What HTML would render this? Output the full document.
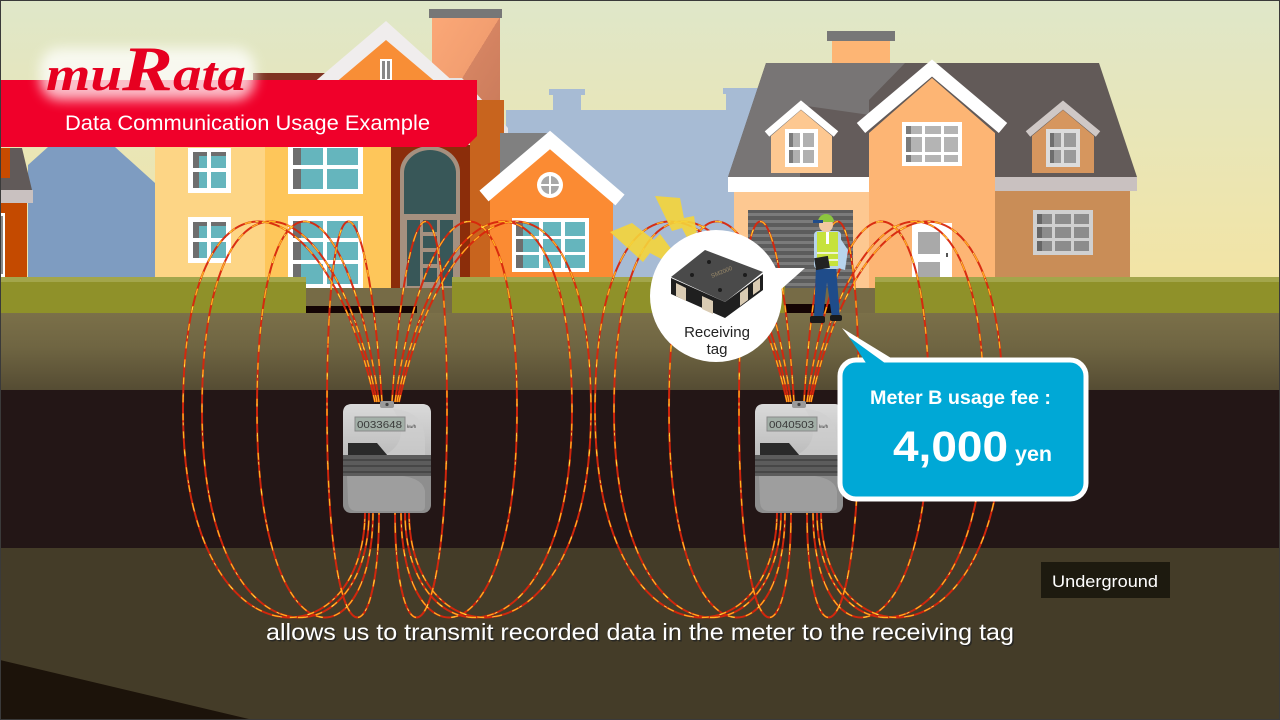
<!DOCTYPE html>
<html><head><meta charset="utf-8"><style>
html,body{margin:0;padding:0;background:#000;}
svg{display:block;}
</style></head><body>
<svg width="1280" height="720" viewBox="0 0 1280 720" xmlns="http://www.w3.org/2000/svg" font-family="Liberation Sans, Arial, sans-serif">
<defs>
<linearGradient id="sky" x1="0" y1="0" x2="0" y2="1">
<stop offset="0" stop-color="#dfe7c9"/><stop offset="1" stop-color="#f4e4a2"/>
</linearGradient>
<linearGradient id="dirt" x1="0" y1="0" x2="0" y2="1">
<stop offset="0" stop-color="#7b7049"/><stop offset="0.45" stop-color="#6f6542"/><stop offset="1" stop-color="#554c33"/>
</linearGradient>
<linearGradient id="chim" x1="0" y1="0" x2="1" y2="1">
<stop offset="0" stop-color="#fba877"/><stop offset="0.5" stop-color="#f29e70"/><stop offset="0.5" stop-color="#d58462"/><stop offset="1" stop-color="#c97a5a"/>
</linearGradient>
<linearGradient id="mtop" x1="0" y1="0" x2="0" y2="1">
<stop offset="0" stop-color="#dadada"/><stop offset="1" stop-color="#b9b9b9"/>
</linearGradient>
<filter id="glow" x="-30%" y="-50%" width="160%" height="200%"><feGaussianBlur stdDeviation="6"/></filter>
<g id="fl">
<path d="M382,402 C367,170 327,150 327,410 C327,672 379,662 379,512"/>
<path d="M379,402 C346,170 257,150 257,410 C257,672 373,662 373,512"/>
<path d="M377,402 C331,170 202,150 202,410 C202,672 369,662 369,512"/>
<path d="M375,402 C324,170 183,150 183,410 C183,672 365,662 365,512"/>
<path d="M392,402 C407,170 447,150 447,410 C447,672 395,662 395,512"/>
<path d="M395,402 C428,170 517,150 517,410 C517,672 401,662 401,512"/>
<path d="M397,402 C443,170 572,150 572,410 C572,672 405,662 405,512"/>
<path d="M399,402 C450,170 591,150 591,410 C591,672 409,662 409,512"/>
<path d="M794,402 C779,170 739,150 739,410 C739,672 791,662 791,512"/>
<path d="M791,402 C758,170 669,150 669,410 C669,672 785,662 785,512"/>
<path d="M789,402 C743,170 614,150 614,410 C614,672 781,662 781,512"/>
<path d="M787,402 C736,170 595,150 595,410 C595,672 777,662 777,512"/>
<path d="M804,402 C819,170 859,150 859,410 C859,672 807,662 807,512"/>
<path d="M807,402 C840,170 929,150 929,410 C929,672 813,662 813,512"/>
<path d="M809,402 C855,170 984,150 984,410 C984,672 817,662 817,512"/>
<path d="M811,402 C862,170 1003,150 1003,410 C1003,672 821,662 821,512"/>
</g>
<g id="meter">
<rect x="0" y="3" width="88" height="109" rx="9" fill="#8d8d8d"/>
<path d="M0,60 L0,12 Q0,3 9,3 L79,3 Q88,3 88,12 L88,60 Z" fill="url(#mtop)"/>
<path d="M50,8 Q82,10 82,40 L82,55 L40,55 Q70,40 50,8 Z" fill="#cfcfcf" opacity="0.6"/>
<rect x="37" y="0" width="14" height="7" rx="2" fill="#9a9a9a"/>
<circle cx="44" cy="3.5" r="1.6" fill="#444"/>
<rect x="12" y="16" width="50" height="14" fill="#a3b0a8" stroke="#8a8a8a" stroke-width="1"/>
<text x="14" y="27" font-size="10" fill="#3a3a3a" textLength="45" lengthAdjust="spacingAndGlyphs">0033648</text>
<text x="64" y="27" font-size="4.5" fill="#333">kw/h</text>
<polygon points="5,42 34,42 45,55 5,55" fill="#2a2a2a"/>
<rect x="0" y="54" width="88" height="21" fill="#5c5c5c"/>
<rect x="0" y="58" width="88" height="2" fill="#474747"/>
<rect x="0" y="64" width="88" height="2" fill="#474747"/>
<rect x="0" y="70" width="88" height="2" fill="#474747"/>
<path d="M0,75 L88,75 L88,103 Q88,112 79,112 L9,112 Q0,112 0,103 Z" fill="#8e8e8e"/>
<path d="M4,75 L60,75 Q80,78 82,90 L82,106 Q82,110 76,110 L14,110 Q5,110 5,100 Z" fill="#9e9e9e"/>
</g>
</defs>

<!-- sky -->
<rect x="0" y="0" width="1280" height="300" fill="url(#sky)"/>

<!-- background blue houses -->
<polygon points="28,165 48,147 115,147 155,183 155,280 28,280" fill="#7e9cc1"/>
<rect x="506" y="110" width="256" height="170" fill="#a7bbd4"/>
<rect x="553" y="93" width="28" height="20" fill="#a7bbd4"/>
<rect x="549" y="89" width="36" height="6" fill="#a7bbd4"/>
<rect x="726" y="92" width="30" height="20" fill="#a7bbd4"/>
<rect x="723" y="88" width="36" height="6" fill="#a7bbd4"/>

<!-- left edge red house -->
<rect x="0" y="148" width="10" height="32" fill="#c84b00"/>
<polygon points="10,148 22,148 32,190 0,190 0,178 10,178" fill="#615a59"/>
<rect x="0" y="190" width="33" height="13" fill="#c9c1c0"/>
<rect x="0" y="203" width="27" height="77" fill="#c44a00"/>
<rect x="0" y="213" width="5" height="64" fill="#fff"/>
<rect x="0" y="216" width="3" height="58" fill="#8a8a8a"/>

<!-- chimney of yellow house -->
<rect x="432" y="17" width="68" height="110" fill="url(#chim)"/>
<rect x="429" y="9" width="73" height="9" fill="#777"/>

<!-- yellow house gable -->
<rect x="253" y="73" width="72" height="10" fill="#7e3322"/>
<polygon points="312,84 386,21 456,84" fill="#f0eded"/>
<polygon points="334,84 386,40 438,84" fill="#f88e36"/>
<rect x="380" y="59" width="12" height="22" fill="#fff"/>
<rect x="382" y="61" width="3" height="18" fill="#888"/>
<rect x="387" y="61" width="3" height="18" fill="#888"/>
<polygon points="449,78 462,78 508,128 508,142" fill="#e7e3e3"/>
<polygon points="452,84 506,142 506,150 470,150 470,110" fill="#9a9a9a"/>

<!-- yellow house body -->
<rect x="155" y="140" width="112" height="150" fill="#fdd585"/>
<rect x="265" y="140" width="128" height="150" fill="#fec65a"/>
<g>
<rect x="188" y="148" width="43" height="45" fill="#fff"/>
<rect x="193" y="152" width="33" height="36" fill="#65b5bd"/>
<rect x="193" y="152" width="6" height="36" fill="#6e6e6e"/>
<rect x="193" y="152" width="33" height="4" fill="#6e6e6e"/>
<rect x="207" y="152" width="4" height="36" fill="#fff"/>
<rect x="193" y="168" width="33" height="4" fill="#fff"/>
</g>
<g>
<rect x="188" y="217" width="43" height="46" fill="#fff"/>
<rect x="193" y="222" width="33" height="36" fill="#65b5bd"/>
<rect x="193" y="222" width="6" height="36" fill="#6e6e6e"/>
<rect x="193" y="222" width="33" height="4" fill="#6e6e6e"/>
<rect x="207" y="222" width="4" height="36" fill="#fff"/>
<rect x="193" y="238" width="33" height="4" fill="#fff"/>
</g>
<g>
<rect x="288" y="145" width="75" height="49" fill="#fff"/>
<rect x="293" y="148" width="65" height="41" fill="#65b5bd"/>
<rect x="293" y="148" width="8" height="41" fill="#6e6e6e"/>
<rect x="323" y="148" width="4" height="41" fill="#fff"/>
<rect x="293" y="165" width="65" height="4" fill="#fff"/>
</g>
<g>
<rect x="288" y="216" width="75" height="73" fill="#fff"/>
<rect x="293" y="221" width="65" height="63" fill="#65b5bd"/>
<rect x="293" y="221" width="8" height="63" fill="#6e6e6e"/>
<rect x="323" y="221" width="4" height="63" fill="#fff"/>
<rect x="293" y="238" width="65" height="4" fill="#fff"/>
<rect x="293" y="260" width="65" height="4" fill="#fff"/>
</g>
<!-- arched door -->
<rect x="391" y="145" width="84" height="145" fill="#8b2d0a"/>
<rect x="470" y="100" width="34" height="190" fill="#c8641e"/>
<path d="M400,290 L400,172 A30,26 0 0 1 460,172 L460,290 Z" fill="#a5907f"/>
<path d="M404,214 L404,173 A26,23 0 0 1 456,173 L456,214 Z" fill="#385758"/>
<rect x="404" y="218" width="52" height="70" fill="#a5907f"/>
<rect x="407" y="220" width="13" height="66" fill="#385758"/>
<rect x="440" y="220" width="13" height="66" fill="#385758"/>
<rect x="423" y="220" width="14" height="12" fill="#385758"/>
<rect x="423" y="236" width="14" height="12" fill="#385758"/>
<rect x="423" y="252" width="14" height="12" fill="#385758"/>
<rect x="423" y="268" width="14" height="14" fill="#385758"/>

<!-- small orange house -->
<polygon points="500,133 552,133 500,184" fill="#808080"/>
<polygon points="490,190 550,140 613,190 613,290 490,290" fill="#fb8b33"/>
<path d="M484,196 L550,140 L620,200" fill="none" stroke="#fff" stroke-width="14" stroke-linejoin="miter"/>
<circle cx="550" cy="185" r="13" fill="#fff"/>
<circle cx="550" cy="185" r="9" fill="#a8a8a8"/>
<rect x="549" y="176" width="2" height="18" fill="#fff"/>
<rect x="541" y="184" width="18" height="2" fill="#fff"/>
<rect x="512" y="218" width="77" height="54" fill="#fff"/>
<rect x="516" y="222" width="69" height="46" fill="#65b5bd"/>
<rect x="516" y="222" width="7" height="46" fill="#6e6e6e"/>
<rect x="539" y="222" width="4" height="46" fill="#fff"/>
<rect x="561" y="222" width="4" height="46" fill="#fff"/>
<rect x="516" y="236" width="69" height="3" fill="#fff"/>
<rect x="516" y="252" width="69" height="3" fill="#fff"/>

<!-- right big house -->
<rect x="832" y="40" width="58" height="42" fill="#fdb574"/>
<rect x="827" y="31" width="68" height="10" fill="#777"/>
<polygon points="766,63 1099,63 1137,177 728,177" fill="#625a58"/>
<polygon points="766,63 905,63 869,100 869,177 728,177" fill="#787575"/>
<polygon points="800,105 870,115 869,177 800,177" fill="#645c5b"/>
<rect x="728" y="177" width="141" height="15" fill="#fff"/>
<rect x="995" y="177" width="142" height="14" fill="#c9c1c0"/>
<rect x="734" y="192" width="135" height="98" fill="#fdc891"/>
<rect x="995" y="191" width="135" height="99" fill="#c98d57"/>
<polygon points="869,133 932,78 995,133 995,290 869,290" fill="#fdb574"/>
<path d="M861,128 L932,68 L1003,128" fill="none" stroke="#fff" stroke-width="13"/>
<polygon points="771,136 801,110 832,136 832,173 771,173" fill="#fdc891"/>
<path d="M767,134 L801,105 L836,134" fill="none" stroke="#fff" stroke-width="7"/>
<polygon points="1032,136 1063,110 1094,136 1094,173 1032,173" fill="#d6965e"/>
<path d="M1028,134 L1063,105 L1098,134" fill="none" stroke="#cfc8c6" stroke-width="7"/>
<rect x="785" y="129" width="33" height="38" fill="#fff"/>
<rect x="789" y="133" width="25" height="30" fill="#b0b0b0"/>
<rect x="789" y="133" width="4" height="30" fill="#7a7a7a"/>
<rect x="800" y="133" width="3" height="30" fill="#fff"/>
<rect x="789" y="147" width="25" height="3" fill="#fff"/>
<rect x="1046" y="129" width="34" height="38" fill="#dcdcdc"/>
<rect x="1050" y="133" width="26" height="30" fill="#9a9a9a"/>
<rect x="1050" y="133" width="4" height="30" fill="#6e6e6e"/>
<rect x="1061" y="133" width="3" height="30" fill="#dcdcdc"/>
<rect x="1050" y="147" width="26" height="3" fill="#dcdcdc"/>
<rect x="902" y="122" width="60" height="44" fill="#fff"/>
<rect x="906" y="126" width="52" height="36" fill="#b4b4b4"/>
<rect x="906" y="126" width="5" height="36" fill="#7b7b7b"/>
<rect x="922" y="126" width="3" height="36" fill="#fff"/>
<rect x="941" y="126" width="3" height="36" fill="#fff"/>
<rect x="906" y="134" width="52" height="3" fill="#fff"/>
<rect x="906" y="152" width="52" height="3" fill="#fff"/>
<rect x="912" y="223" width="40" height="67" fill="#fff"/>
<rect x="918" y="232" width="22" height="22" fill="#a9a9a9"/>
<rect x="918" y="262" width="22" height="20" fill="#a9a9a9"/>
<rect x="946" y="253" width="2" height="4" fill="#555"/>
<rect x="1033" y="210" width="60" height="45" fill="#d0d0d0"/>
<rect x="1037" y="214" width="52" height="37" fill="#8c8c8c"/>
<rect x="1037" y="214" width="5" height="37" fill="#666"/>
<rect x="1052" y="214" width="3" height="37" fill="#d0d0d0"/>
<rect x="1071" y="214" width="3" height="37" fill="#d0d0d0"/>
<rect x="1037" y="224" width="52" height="3" fill="#d0d0d0"/>
<rect x="1037" y="238" width="52" height="3" fill="#d0d0d0"/>
<rect x="748" y="210" width="105" height="80" fill="#5c5c5c"/>
<g fill="#7b7b7b">
<rect x="748" y="213" width="105" height="3"/><rect x="748" y="220" width="105" height="3"/>
<rect x="748" y="227" width="105" height="3"/><rect x="748" y="234" width="105" height="3"/>
<rect x="748" y="241" width="105" height="3"/><rect x="748" y="248" width="105" height="3"/>
<rect x="748" y="255" width="105" height="3"/><rect x="748" y="262" width="105" height="3"/>
<rect x="748" y="269" width="105" height="3"/><rect x="748" y="276" width="105" height="3"/>
<rect x="748" y="283" width="105" height="3"/>
</g>

<!-- ground -->
<rect x="0" y="288" width="1280" height="30" fill="#766b46"/>
<rect x="306" y="306" width="111" height="8" fill="#140404"/>
<rect x="782" y="304" width="57" height="9" fill="#140404"/>
<rect x="0" y="277" width="306" height="36" fill="#8f9129"/>
<rect x="0" y="277" width="306" height="5" fill="#a3a64b"/>
<rect x="452" y="277" width="333" height="36" fill="#8f9129"/>
<rect x="452" y="277" width="333" height="5" fill="#a3a64b"/>
<rect x="875" y="277" width="405" height="36" fill="#8f9129"/>
<rect x="875" y="277" width="405" height="5" fill="#a3a64b"/>
<rect x="0" y="313" width="1280" height="77" fill="url(#dirt)"/>
<rect x="0" y="390" width="1280" height="158" fill="#231616"/>
<rect x="0" y="548" width="1280" height="172" fill="#443c28"/>
<polygon points="0,660 253,720 0,720" fill="#1c130a"/>

<!-- field lines -->
<use href="#fl" fill="none" stroke="#d8260c" stroke-width="2" opacity="0.95"/>
<use href="#fl" fill="none" stroke="#ffb21e" stroke-width="1.3" stroke-dasharray="7 11"/>
<use href="#fl" fill="none" stroke="#fff04a" stroke-width="0.8" stroke-dasharray="3 26" stroke-dashoffset="5"/>

<!-- worker -->
<g>
<polygon points="816,266 836,266 840,318 832,318 827,282 823,318 814,318" fill="#1f4c8a"/>
<rect x="810" y="316" width="15" height="7" rx="2" fill="#1a1a1a"/>
<rect x="830" y="315" width="12" height="6" rx="2" fill="#1a1a1a"/>
<rect x="814" y="231" width="27" height="38" rx="4" fill="#b8d4ec"/>
<polygon points="838,235 848,250 845,270 838,268 841,252" fill="#b8d4ec"/>
<rect x="817" y="232" width="21" height="34" fill="#c6e23c"/>
<rect x="817" y="252" width="21" height="2" fill="#eef5d0"/>
<rect x="817" y="259" width="21" height="2" fill="#eef5d0"/>
<rect x="826" y="232" width="3" height="12" fill="#fff"/>
<rect x="815" y="257" width="14" height="12" fill="#222" transform="rotate(-10 822 263)"/>
<circle cx="826" cy="225" r="7" fill="#f0c8a0"/>
<path d="M818,222 A8,8 0 0 1 834,222 Z" fill="#8cc63f"/>
<rect x="813" y="220" width="10" height="3" fill="#1f4c8a"/>
</g>

<!-- meters -->
<use href="#meter" transform="translate(343,401)"/>
<g transform="translate(755,401)">
<use href="#meter"/>
<rect x="13" y="17" width="48" height="12" fill="#a3b0a8"/>
<text x="14" y="27" font-size="10" fill="#3a3a3a" textLength="45" lengthAdjust="spacingAndGlyphs">0040503</text>
</g>

<!-- lightning -->
<polygon points="655,196 680,198 684,218 694,216 702,266 682,228 672,231" fill="#f5d53a" opacity="0.9"/>
<polygon points="610,232 632,223 654,240 660,234 690,274 650,253 643,262" fill="#f5d53a" opacity="0.9"/>

<!-- receiving tag bubble -->
<polygon points="774,268 805,268 778,292" fill="#fff"/>
<circle cx="716" cy="296" r="66" fill="#fff"/>
<g>
<polygon points="671,278 671,294 725,318 763,290 763,274 725,302" fill="#1f1f1f"/>
<polygon points="671,277 705,250 763,272 725,302" fill="#4a4a4a"/>
<polygon points="676,283 686,288 686,301 676,296" fill="#d9cbb3"/>
<polygon points="702,296 713,301 713,314 702,309" fill="#d9cbb3"/>
<polygon points="740,293 748,287 748,300 740,306" fill="#d9cbb3"/>
<polygon points="753,283 760,278 760,290 753,295" fill="#d9cbb3"/>
<circle cx="692" cy="275" r="2" fill="#1c1c1c"/>
<circle cx="709" cy="262" r="2" fill="#1c1c1c"/>
<circle cx="745" cy="275" r="2" fill="#1c1c1c"/>
<circle cx="720" cy="290" r="2" fill="#1c1c1c"/>
<text x="712" y="278" font-size="6" fill="#9a8a6a" transform="rotate(-22 712 278)">SM2000</text>
</g>
<text x="717" y="337" font-size="15" fill="#222" text-anchor="middle">Receiving</text>
<text x="717" y="354" font-size="15" fill="#222" text-anchor="middle">tag</text>

<!-- callout -->
<polygon points="842,328 868,361 896,361" fill="#fff"/>
<rect x="840" y="360" width="246" height="139" rx="16" fill="#00a8d6" stroke="#fff" stroke-width="5"/>
<polygon points="849,337 868,366 889,366" fill="#00a8d6"/>
<text x="870" y="404" font-size="19" font-weight="bold" fill="#fff" textLength="181" lengthAdjust="spacingAndGlyphs">Meter B usage fee :</text>
<text x="893" y="461" font-size="43" font-weight="bold" fill="#fff" textLength="115" lengthAdjust="spacingAndGlyphs">4,000</text>
<text x="1015" y="461" font-size="21" font-weight="bold" fill="#fff" textLength="37" lengthAdjust="spacingAndGlyphs">yen</text>

<!-- underground label -->
<rect x="1041" y="562" width="129" height="36" fill="#1d1a0f"/>
<text x="1105" y="587" font-size="17" fill="#fff" text-anchor="middle" textLength="106" lengthAdjust="spacingAndGlyphs">Underground</text>

<!-- subtitle -->
<text x="267.5" y="641.5" font-size="23" fill="#222" opacity="0.8" textLength="748" lengthAdjust="spacingAndGlyphs">allows us to transmit recorded data in the meter to the receiving tag</text>
<text x="266" y="640" font-size="23" fill="#fff" textLength="748" lengthAdjust="spacingAndGlyphs">allows us to transmit recorded data in the meter to the receiving tag</text>

<!-- banner + logo -->
<polygon points="0,80 477,80 477,136 466,147 0,147" fill="#f0002a"/>
<rect x="40" y="48" width="215" height="52" rx="20" fill="#fff" opacity="0.75" filter="url(#glow)"/>
<text x="46" y="90" font-family="Liberation Serif, serif" font-weight="bold" font-style="italic" fill="#e60020" font-size="48" textLength="200" lengthAdjust="spacingAndGlyphs">mu<tspan font-size="64">R</tspan>ata</text>
<text x="65" y="130" font-size="21" fill="#fff" textLength="365" lengthAdjust="spacingAndGlyphs">Data Communication Usage Example</text>

<!-- frame -->
<rect x="0.5" y="0.5" width="1279" height="719" fill="none" stroke="#3a3a3a" stroke-width="1"/>
</svg>
</body></html>
